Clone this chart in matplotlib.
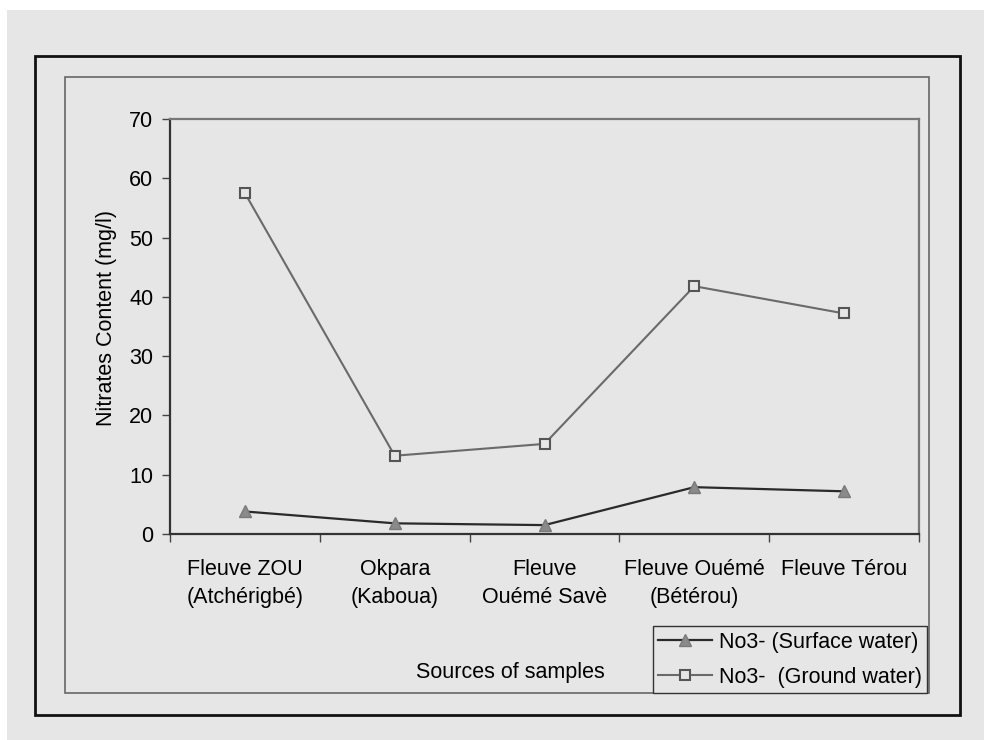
import matplotlib.pyplot as plt
from matplotlib.patches import Rectangle
from matplotlib.ticker import FixedLocator

# data
sources = ['Fleuve ZOU\n(Atchérigbé)', 'Okpara\n(Kaboua)', 'Fleuve\nOuémé Savè',
           'Fleuve Ouémé\n(Bétérou)', 'Fleuve Térou']
surface = [3.8, 1.8, 1.5, 7.9, 7.2]
ground = [57.5, 13.2, 15.2, 41.8, 37.2]

plt.rcParams['font.family'] = ['Liberation Sans', 'DejaVu Sans']
plt.rcParams['font.size'] = 15.5

W, H = 984, 740
bg = '#e6e6e6'
fig = plt.figure(figsize=(W / 100, H / 100), dpi=100, facecolor=bg)


def px(x0, y0, x1, y1):
    # pixel box (top-left origin) -> figure fraction rect
    return (x0 / W, 1 - y1 / H), (x1 - x0) / W, (y1 - y0) / H


# white scan margins
for box in [(0, 0, W, 10), (0, 0, 7, H)]:
    xy, w, h = px(*box)
    fig.patches.append(Rectangle(xy, w, h, transform=fig.transFigure,
                                 facecolor='white', edgecolor='none', zorder=0))

# outer and inner frames
xy, w, h = px(35, 56, 960, 715)
fig.patches.append(Rectangle(xy, w, h, transform=fig.transFigure, fill=False,
                             edgecolor='#111111', linewidth=2))
xy, w, h = px(65, 77, 929, 693)
fig.patches.append(Rectangle(xy, w, h, transform=fig.transFigure, fill=False,
                             edgecolor='#666666', linewidth=1.2))

ax = fig.add_axes([170 / W, 1 - 534 / H, (919 - 170) / W, (534 - 119) / H])
ax.set_facecolor(bg)

x = range(len(sources))
l1, = ax.plot(x, surface, color='#2a2a2a', linewidth=1.6, marker='^', markersize=8,
              markerfacecolor='#8a8a8a', markeredgecolor='#7a7a7a',
              label='No3- (Surface water)')
l2, = ax.plot(x, ground, color='#6a6a6a', linewidth=1.5, marker='s', markersize=7,
              markerfacecolor=bg, markeredgecolor='#555555', markeredgewidth=1.5,
              label='No3-  (Ground water)')

ax.set_xlim(-0.5, len(sources) - 0.5)
ax.set_ylim(0, 70)
ax.set_yticks(range(0, 71, 10))
ax.set_xticks(list(x))
ax.set_xticklabels(sources, linespacing=1.45)
ax.xaxis.set_minor_locator(FixedLocator([i - 0.5 for i in range(len(sources) + 1)]))
ax.tick_params(axis='x', which='major', length=0, pad=18)
ax.tick_params(axis='x', which='minor', length=6, width=1, color='#444444')
ax.tick_params(axis='y', length=6, width=1, color='#444444', pad=6)

for s in ['left', 'bottom']:
    ax.spines[s].set_color('#333333')
    ax.spines[s].set_linewidth(1.6)
for s in ['top', 'right']:
    ax.spines[s].set_color('#777777')
    ax.spines[s].set_linewidth(1.6)

ax.set_ylabel('Nitrates Content (mg/l)', va='center')
ax.yaxis.set_label_coords(-0.085, 0.52)
ax.set_xlabel('Sources of samples', va='center')
ax.xaxis.set_label_coords(0.454, -0.333)

fig.legend(handles=[l1, l2], loc='lower right',
           bbox_to_anchor=(927 / W, 1 - 693 / H), bbox_transform=fig.transFigure,
           borderaxespad=0, fancybox=False, framealpha=1, facecolor=bg,
           edgecolor='#333333', handlelength=2.5, handletextpad=0.3,
           borderpad=0.25, labelspacing=0.65)

fig.savefig('out.png', dpi=100, facecolor=bg)
